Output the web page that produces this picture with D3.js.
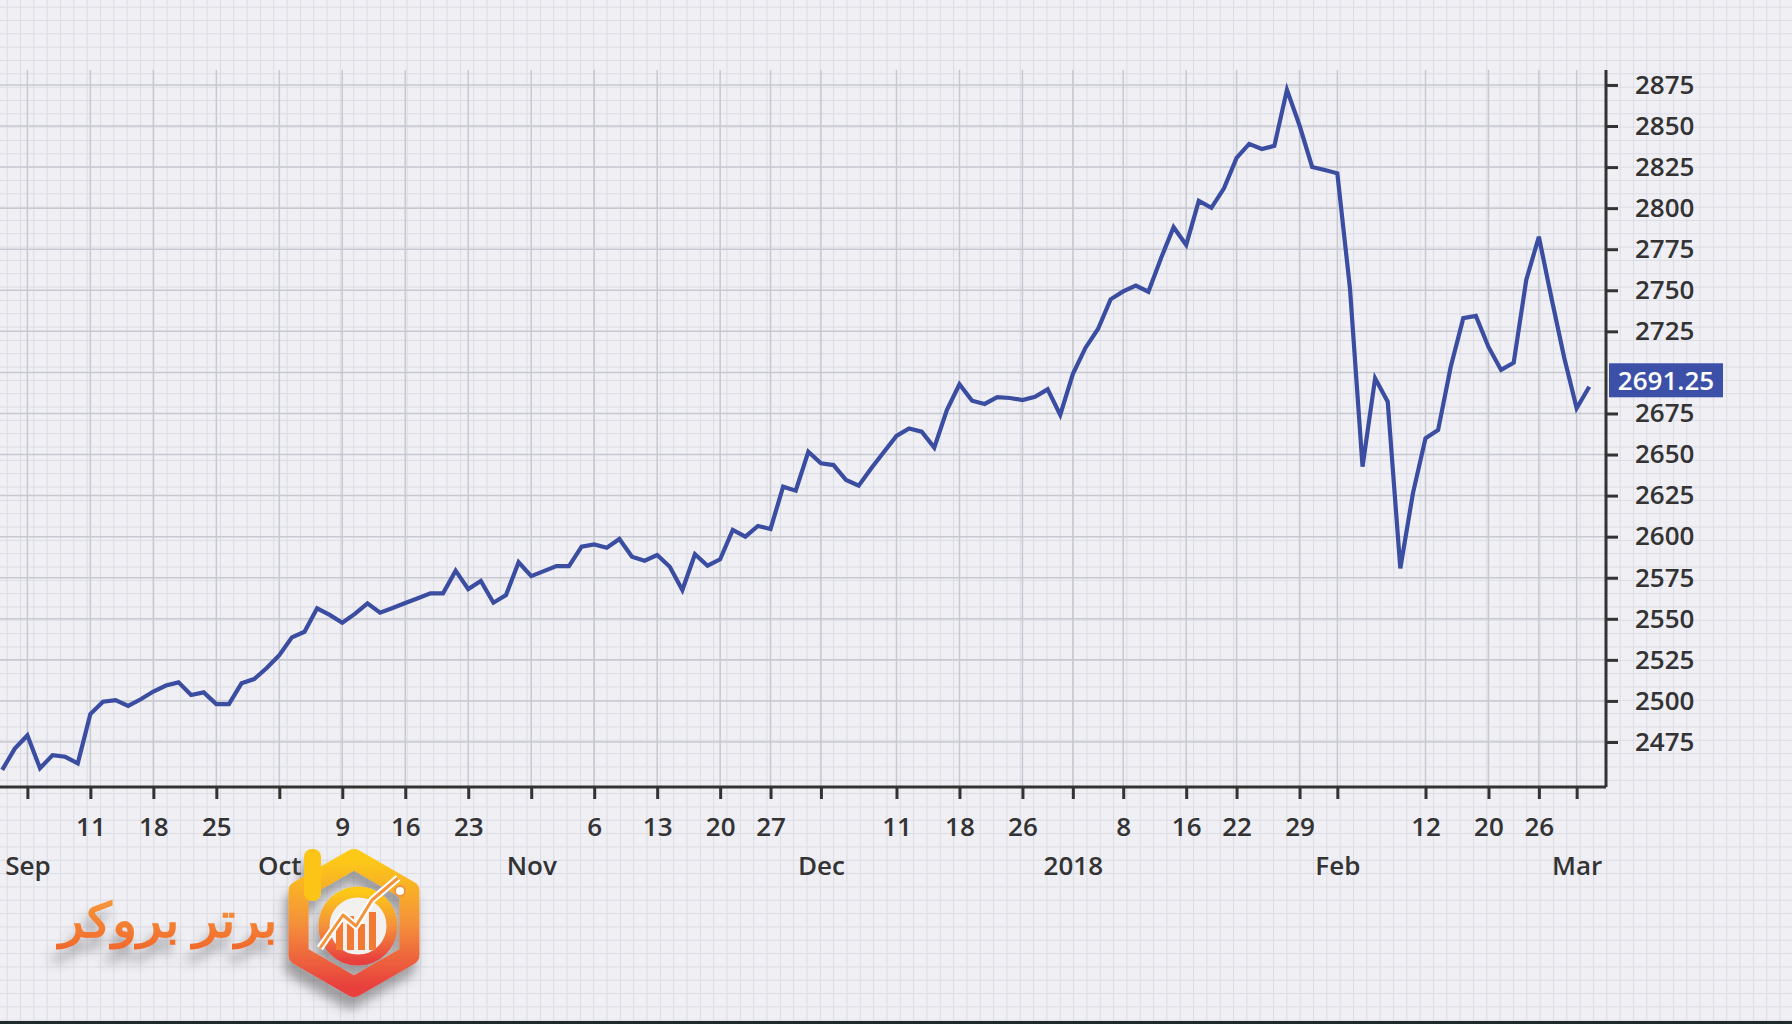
<!DOCTYPE html>
<html>
<head>
<meta charset="utf-8">
<script src="https://cdn.jsdelivr.net/npm/d3@7"></script>
<style>
    html, body { margin: 0; padding: 0; background: #efeff4; }
    svg { display: block; }
    text { font-family: "Open Sans", "Noto Sans", sans-serif; }
</style>
</head>
<body>
<div id="chart"></div>
<script>
/** Data. */
const START_DATE = "2017-08-30";
const HOLIDAYS = ["2017-09-04", "2017-11-23", "2017-12-25", "2018-01-01", "2018-01-15", "2018-02-19"];

// Daily closes, one per trading day from START_DATE.
const CLOSES = [
    2458, 2471, 2479, 2459, 2467, 2466, 2462, 2492, 2499.5, 2500.5,
    2497, 2501, 2505.7, 2509.4, 2511.3, 2503.6, 2505.2, 2498.1, 2498.1, 2510.7,
    2513.3, 2520, 2527.9, 2538.7, 2542.1, 2556.4, 2552.4, 2547.6, 2553, 2559.4,
    2553.7, 2556.6, 2559.6, 2562.5, 2565.5, 2565.5, 2579.3, 2568.1, 2573, 2559.8,
    2564.5, 2584.4, 2576, 2579, 2582.1, 2582.1, 2593.9, 2595.3, 2593.3, 2598.6,
    2587.8, 2585.4, 2588.8, 2581.7, 2567.5, 2589.3, 2582.3, 2586.2, 2604.1, 2600,
    2606.5, 2604.7, 2630.4, 2628, 2651.7, 2644.7, 2643.6, 2634.5, 2631, 2641.6,
    2651.5, 2661.3, 2665.9, 2663.9, 2654.2, 2677.1, 2692.8, 2682.8, 2680.8, 2685,
    2684.4, 2683.2, 2685.2, 2689.7, 2674.1, 2699, 2714.9, 2726.4, 2744.5, 2749.3,
    2752.9, 2749.1, 2769.5, 2788.4, 2777.6, 2804.4, 2800.2, 2812.1, 2830.6, 2839.1,
    2836, 2837.9, 2872, 2850.3, 2825.1, 2823.2, 2821.2, 2751.4, 2642.6, 2696.4,
    2682.2, 2580.7, 2626.4, 2659.9, 2664.9, 2703.3, 2733, 2734.4, 2715.5, 2701.5,
    2705.9, 2756.3, 2782.6, 2745.3, 2709.4, 2678.2, 2691.25
];

const TICK_DATES = [
    "2017-09-01", "2017-09-11", "2017-09-18", "2017-09-25", "2017-10-02", "2017-10-09", "2017-10-16",
    "2017-10-23", "2017-10-30", "2017-11-06", "2017-11-13", "2017-11-20", "2017-11-27", "2017-12-01",
    "2017-12-11", "2017-12-18", "2017-12-26", "2018-01-02", "2018-01-08", "2018-01-16", "2018-01-22",
    "2018-01-29", "2018-02-01", "2018-02-12", "2018-02-20", "2018-02-26", "2018-03-01"
];
const DAY_LABELS = ["", "11", "18", "25", "", "9", "16", "23", "", "6", "13", "20", "27", "",
    "11", "18", "26", "", "8", "16", "22", "29", "", "12", "20", "26", ""];
const PERIOD_LABELS = ["Sep", "", "", "", "Oct", "", "", "", "Nov", "", "", "", "", "Dec",
    "", "", "", "2018", "", "", "", "", "Feb", "", "", "", "Mar"];

const Y_TICKS = d3.range(2475, 2876, 25);
const LAST_LABEL = "2691.25";
const BRAND = "برتر بروکر";

/** Layout. */
const WIDTH = 1792;
const HEIGHT = 1024;
const PLOT = {left: 0, right: 1606, top: 70, bottom: 787};
const LINE_COLOR = "#3b4da0";
const AXIS_COLOR = "#333";
const GRID_COLOR = "#c8c8d1";

// Trading calendar: weekdays minus exchange holidays.
const fmt = d3.utcFormat("%Y-%m-%d");
const parse = d3.utcParse("%Y-%m-%d");
const tradingDays = [];
for (let d = parse(START_DATE); tradingDays.length < CLOSES.length; d = d3.utcDay.offset(d, 1)) {
    const wd = d.getUTCDay();
    if (wd === 0 || wd === 6 || HOLIDAYS.includes(fmt(d))) continue;
    tradingDays.push(fmt(d));
}
const dayIndex = new Map(tradingDays.map((d, i) => [d, i]));
const DATA = CLOSES.map((close, i) => ({i, date: tradingDays[i], close}));
const tickIdx = TICK_DATES.map(d => dayIndex.get(d));
const last = DATA[DATA.length - 1];

const x = d3.scaleLinear()
    .domain([-0.175, DATA.length - 1 + 1.33])
    .range([PLOT.left, PLOT.right]);
const y = d3.scaleLinear()
    .domain([2447.6, 2884.1])
    .range([PLOT.bottom, PLOT.top]);

// The last-price tag hides the tick it sits on.
const lastY = y(last.close) - 6.5;
const shownTicks = Y_TICKS.filter(v => Math.abs(y(v) - lastY) > 17);

const svg = d3.select("#chart").append("svg")
    .attr("width", WIDTH)
    .attr("height", HEIGHT);

/** Defs: paper pattern, gradients, shadow. */
const defs = svg.append("defs");
const paper = defs.append("pattern")
    .attr("id", "paper")
    .attr("width", 13.33).attr("height", 13.33)
    .attr("patternUnits", "userSpaceOnUse")
    .attr("patternTransform", "translate(6.67,6.67)");
paper.append("rect").attr("width", 13.33).attr("height", 13.33).attr("fill", "#efeff4");
paper.append("path")
    .attr("d", "M0,0.5H13.33M0.5,0V13.33")
    .attr("stroke", "#dbdbe4")
    .attr("stroke-width", 1);

const logoGrad = defs.append("linearGradient")
    .attr("id", "logoGrad").attr("x1", 0).attr("y1", 0).attr("x2", 0).attr("y2", 1);
logoGrad.append("stop").attr("offset", "0%").attr("stop-color", "#fcc917");
logoGrad.append("stop").attr("offset", "50%").attr("stop-color", "#f4913a");
logoGrad.append("stop").attr("offset", "100%").attr("stop-color", "#e8403d");

const textGrad = defs.append("linearGradient")
    .attr("id", "textGrad").attr("x1", 0).attr("y1", 0).attr("x2", 0).attr("y2", 1);
textGrad.append("stop").attr("offset", "0%").attr("stop-color", "#f8a43c");
textGrad.append("stop").attr("offset", "100%").attr("stop-color", "#f0672c");

const shadow = defs.append("filter")
    .attr("id", "shadow")
    .attr("x", "-40%").attr("y", "-40%").attr("width", "180%").attr("height", "200%");
shadow.append("feDropShadow")
    .attr("dx", -4).attr("dy", 12)
    .attr("stdDeviation", 6)
    .attr("flood-color", "#4a4a4a")
    .attr("flood-opacity", 0.5);

svg.append("rect")
    .attr("width", WIDTH).attr("height", HEIGHT)
    .attr("fill", "url(#paper)");

/** Grid. */
svg.append("g")
    .selectAll("line")
    .data(tickIdx)
    .join("line")
    .attr("x1", d => x(d)).attr("x2", d => x(d))
    .attr("y1", PLOT.top).attr("y2", PLOT.bottom)
    .attr("stroke", GRID_COLOR)
    .attr("stroke-width", 1.5);

svg.append("g")
    .selectAll("line")
    .data(Y_TICKS)
    .join("line")
    .attr("x1", PLOT.left).attr("x2", PLOT.right)
    .attr("y1", d => y(d)).attr("y2", d => y(d))
    .attr("stroke", GRID_COLOR)
    .attr("stroke-width", 1.5);

/** Price line. */
const priceLine = d3.line()
    .x(d => x(d.i))
    .y(d => y(d.close));

svg.append("path")
    .datum(DATA)
    .attr("fill", "none")
    .attr("stroke", LINE_COLOR)
    .attr("stroke-width", 4.2)
    .attr("stroke-linejoin", "miter")
    .attr("d", priceLine);

/** Axes. */
const xAxis = d3.axisBottom(x)
    .tickValues(tickIdx)
    .tickFormat((d, i) => DAY_LABELS[i])
    .tickSize(12)
    .tickSizeOuter(0)
    .tickPadding(19);

const yAxis = d3.axisRight(y)
    .tickValues(shownTicks)
    .tickFormat(d3.format("d"))
    .tickSize(12)
    .tickSizeOuter(0)
    .tickPadding(17);

function styleAxis(g) {
    g.select(".domain").attr("stroke", AXIS_COLOR).attr("stroke-width", 3);
    g.selectAll(".tick line").attr("stroke", AXIS_COLOR).attr("stroke-width", 3);
    g.selectAll(".tick text")
        .attr("fill", AXIS_COLOR)
        .attr("font-size", 26)
        .attr("font-weight", 600)
        .attr("font-family", "'Open Sans', 'Noto Sans', sans-serif");
}

const gx = svg.append("g")
    .attr("transform", `translate(0,${PLOT.bottom})`)
    .call(xAxis)
    .call(styleAxis);
gx.select(".domain").attr("d", `M${PLOT.left},0H${PLOT.right}`);

gx.selectAll(".tick")
    .append("text")
    .attr("y", 88)
    .attr("fill", AXIS_COLOR)
    .attr("font-size", 26)
    .attr("font-weight", 600)
    .attr("font-family", "'Open Sans', 'Noto Sans', sans-serif")
    .attr("text-anchor", "middle")
    .text((d, i) => PERIOD_LABELS[i]);

const gy = svg.append("g")
    .attr("transform", `translate(${PLOT.right},0)`)
    .call(yAxis)
    .call(styleAxis);
gy.select(".domain").attr("d", `M0,${PLOT.top}V${PLOT.bottom}`);

/** Last price marker. */
svg.append("rect")
    .attr("x", PLOT.right + 3)
    .attr("y", lastY - 17)
    .attr("width", 114)
    .attr("height", 34)
    .attr("fill", "#3c50a8");
svg.append("text")
    .attr("x", PLOT.right + 60)
    .attr("y", lastY)
    .attr("dy", "0.36em")
    .attr("text-anchor", "middle")
    .attr("fill", "#fff")
    .attr("font-size", 26)
    .attr("font-weight", 600)
    .text(LAST_LABEL);

/** Watermark logo. */
const logo = svg.append("g").attr("filter", "url(#shadow)");
const cx = 354, cy = 923, r = 64;
const hex = d3.range(6).map(k => {
    const a = Math.PI / 3 * k - Math.PI / 2;
    return [cx + r * Math.cos(a), cy + r * Math.sin(a)];
});
logo.append("path")
    .attr("d", d3.line().curve(d3.curveLinearClosed)(hex))
    .attr("fill", "none")
    .attr("stroke", "url(#logoGrad)")
    .attr("stroke-width", 20)
    .attr("stroke-linejoin", "round");
logo.append("rect")
    .attr("x", 304).attr("y", 849)
    .attr("width", 17).attr("height", 52)
    .attr("rx", 8)
    .attr("fill", "#fcc417");
logo.append("circle")
    .attr("cx", 358).attr("cy", 926).attr("r", 34)
    .attr("fill", "#f3f1ef")
    .attr("stroke", "url(#logoGrad)")
    .attr("stroke-width", 11);
logo.append("g")
    .selectAll("rect")
    .data([4, 10, 2, 14])
    .join("rect")
    .attr("x", (h, k) => 336 + k * 11)
    .attr("y", h => 926 - h)
    .attr("width", 7)
    .attr("height", h => 24 + h)
    .attr("fill", "#f17a35");
const arrow = "M320,948L343,915L356,926L372,900L398,878";
logo.append("path")
    .attr("d", arrow)
    .attr("fill", "none")
    .attr("stroke", "#fff")
    .attr("stroke-width", 7)
    .attr("stroke-linejoin", "round");
logo.append("path")
    .attr("d", arrow)
    .attr("fill", "none")
    .attr("stroke", "#f3933a")
    .attr("stroke-width", 3)
    .attr("stroke-linejoin", "round");
logo.append("circle")
    .attr("cx", 400).attr("cy", 891).attr("r", 5)
    .attr("fill", "#fff")
    .attr("stroke", "#f3933a")
    .attr("stroke-width", 2);

svg.append("text")
    .attr("x", 277)
    .attr("y", 937)
    .attr("direction", "rtl")
    .attr("text-anchor", "start")
    .attr("font-family", "'DejaVu Sans', sans-serif")
    .attr("font-weight", "bold")
    .attr("font-size", 48)
    .attr("textLength", 218)
    .attr("lengthAdjust", "spacingAndGlyphs")
    .attr("fill", "url(#textGrad)")
    .attr("filter", "url(#shadow)")
    .text(BRAND);

svg.append("rect")
    .attr("y", HEIGHT - 3)
    .attr("width", WIDTH)
    .attr("height", 3)
    .attr("fill", "#1f2b2d");
</script>
</body>
</html>
